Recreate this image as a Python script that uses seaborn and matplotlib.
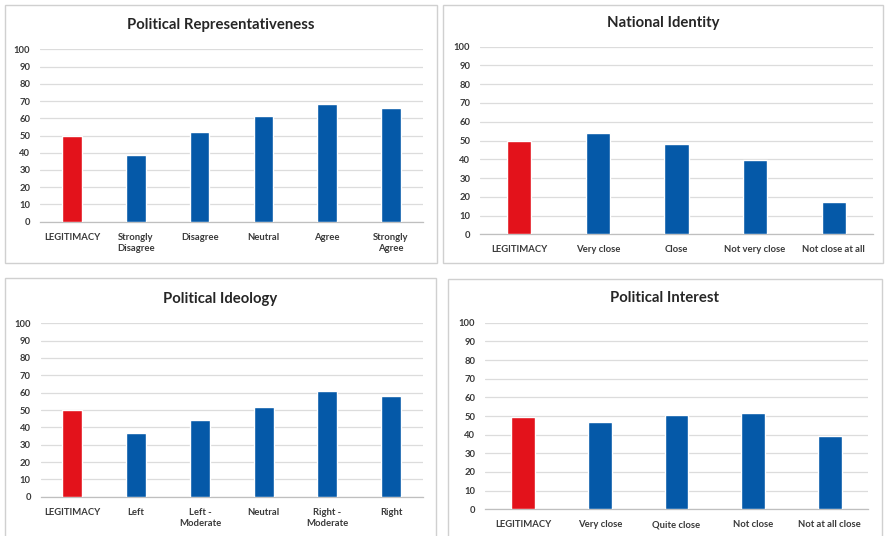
import matplotlib
matplotlib.use("Agg")
import matplotlib.pyplot as plt
from matplotlib.patches import Rectangle
import seaborn as sns

sns.set_theme(style="white")
plt.rcParams["font.family"] = ["Lato", "DejaVu Sans"]

# Survey results: share expressing legitimacy by group
rep_labels = ["LEGITIMACY", "Strongly\nDisagree", "Disagree", "Neutral", "Agree", "Strongly\nAgree"]
rep_values = [50.0, 38.6, 52.0, 61.4, 68.4, 66.1]

nat_labels = ["LEGITIMACY", "Very close", "Close", "Not very close", "Not close at all"]
nat_values = [49.7, 54.2, 48.3, 39.6, 17.1]

ideo_labels = ["LEGITIMACY", "Left", "Left -\nModerate", "Neutral", "Right -\nModerate", "Right"]
ideo_values = [50.0, 36.9, 44.0, 51.9, 60.8, 57.9]

int_labels = ["LEGITIMACY", "Very close", "Quite close", "Not close", "Not at all close"]
int_values = [49.6, 46.6, 50.4, 51.4, 39.3]

titles = ["Political Representativeness", "National Identity", "Political Ideology", "Political Interest"]
y_ticks = list(range(0, 101, 10))

RED = "#E3121B"
BLUE = "#0559A8"
GRID = "#DCDCDC"
TEXT = "#3A3A3A"

W, H = 886, 536
fig = plt.figure(figsize=(W / 100, H / 100), dpi=100)
fig.patch.set_facecolor("white")


def px_axes(x0, y0, x1, y1):
    """Axes from pixel box (top-left origin)."""
    return fig.add_axes([x0 / W, 1 - y1 / H, (x1 - x0) / W, (y1 - y0) / H])


def frame(x0, y0, x1, y1):
    fig.patches.append(Rectangle((x0 / W, 1 - y1 / H), (x1 - x0) / W, (y1 - y0) / H,
                                 transform=fig.transFigure, fill=False,
                                 edgecolor="#D0D0D0", linewidth=1.0, zorder=0))


panels = [
    # labels, values, title, frame box, axes box, title y
    (rep_labels, rep_values, titles[0], (5, 5, 437, 263), (40, 49.3, 423, 221.7), 25),
    (nat_labels, nat_values, titles[1], (443, 5, 883, 263), (480, 46.7, 873, 234.3), 23),
    (ideo_labels, ideo_values, titles[2], (5, 278, 436, 545), (40.5, 323.3, 423, 496.7), 299),
    (int_labels, int_values, titles[3], (448, 279, 882, 545), (485, 322.7, 868, 509.3), 298),
]

for labels, values, title, fbox, abox, ty in panels:
    frame(*fbox)
    ax = px_axes(*abox)
    palette = [RED] + [BLUE] * (len(labels) - 1)
    sns.barplot(x=labels, y=values, hue=labels, palette=palette, legend=False,
                width=0.31, saturation=1, ax=ax, zorder=3)
    ax.set_xlim(-0.5, len(labels) - 0.5)
    ax.set_ylim(0, 100)
    ax.set_yticks(y_ticks)
    ax.yaxis.grid(True, color=GRID, linewidth=0.9, zorder=0)
    ax.set_axisbelow(True)
    for s in ["top", "right", "left"]:
        ax.spines[s].set_visible(False)
    ax.spines["bottom"].set_color("#BFBFBF")
    ax.spines["bottom"].set_linewidth(0.9)
    ax.tick_params(axis="both", length=0, labelsize=6.8, labelcolor=TEXT)
    ax.tick_params(axis="y", pad=7)
    ax.tick_params(axis="x", pad=8)
    for t in ax.get_xticklabels() + ax.get_yticklabels():
        t.set_fontweight("bold")
        t.set_linespacing(1.35)
    ax.set_xlabel("")
    ax.set_ylabel("")
    cx = (fbox[0] + fbox[2]) / 2
    fig.text(cx / W, 1 - ty / H, title, ha="center", va="center",
             fontsize=10.7, fontweight="bold", color="#262626")

fig.savefig("out.png", dpi=100, facecolor="white")
